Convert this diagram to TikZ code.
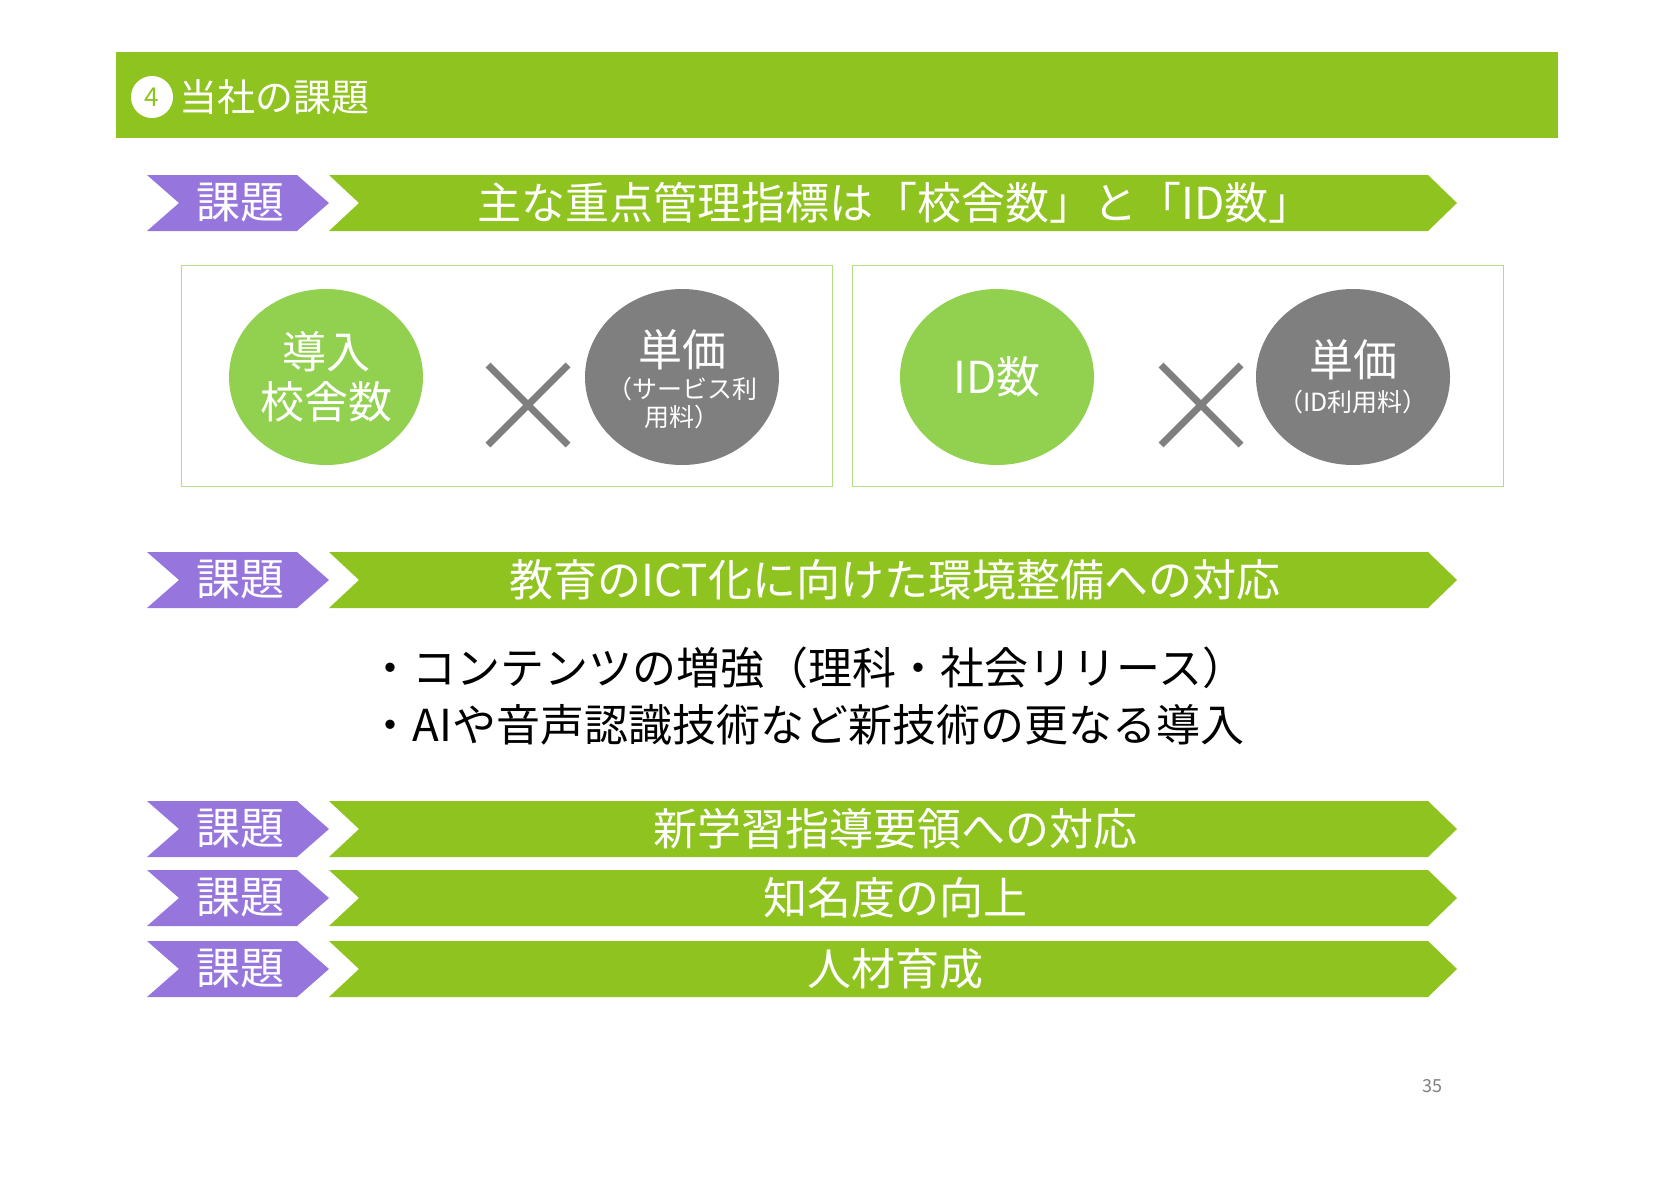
\documentclass[tikz,border=0pt]{standalone}
\usepackage{fontspec}
\setmainfont{Noto Sans CJK JP}
\usetikzlibrary{shapes.geometric}
\definecolor{gr}{HTML}{8FC31F}
\definecolor{pu}{HTML}{9676DC}
\definecolor{lg}{HTML}{92D050}
\definecolor{gy}{HTML}{7F7F7F}
\tikzset{
 ttl/.style={text=white,font=\fontsize{44}{48}\selectfont},
 bx/.style={draw=lg!70,line width=1pt},
 cir/.style={ellipse,minimum width=194pt,minimum height=176pt,fill=#1,inner sep=0pt},
 ctx/.style={text=white,align=center,inner sep=0pt},
 cross/.style={draw=gy,line width=7pt}
}
\newcommand{\kadai}[3]{%
 \fill[pu] (147,#1) -- (297,#1) -- (329,#1+28) -- (297,#1+56) -- (147,#1+56) -- (179,#1+28) -- cycle;
 \node[ttl] (k#3) at (240,#1+28) {課題};
 \fill[gr] (329,#1) -- (1428,#1) -- (1457,#1+28) -- (1428,#1+56) -- (329,#1+56) -- (359,#1+28) -- cycle;
 \node[ttl] (t#3) at (895,#1+28) {#2};
}
\begin{document}
\begin{tikzpicture}[x=1pt,y=-1pt]
\useasboundingbox (0,0) rectangle (1672,1184);
\fill[gr] (116,52) rectangle (1558,138);
\node[circle,fill=white,minimum size=42pt,inner sep=0pt,text=gr,font=\fontsize{26}{28}\selectfont] (num) at (152,97) {4};
\node[anchor=west,text=white,font=\fontsize{38}{40}\selectfont] (head) at (176,97) {当社の課題};
\kadai{175}{主な重点管理指標は「校舎数」と「ID数」}{1}
\kadai{552}{教育のICT化に向けた環境整備への対応}{2}
\kadai{801}{新学習指導要領への対応}{3}
\kadai{870}{知名度の向上}{4}
\kadai{941}{人材育成}{5}
\draw[bx] (181,265) rectangle (832,486);
\draw[bx] (852,265) rectangle (1503,486);
\node[cir=lg] (c1) at (326,377) {};
\node[ctx,font=\fontsize{44}{50}\selectfont] (c1t) at (c1) {導入\\校舎数};
\node[cir=gy] (c2) at (682,377) {};
\node[ctx,font=\fontsize{44}{48}\selectfont] (c2a) at (682,350) {単価};
\node[ctx,font=\fontsize{25}{28}\selectfont] (c2b) at (682,403) {（サービス利\\用料）};
\node[cir=lg] (c3) at (997,377) {};
\node[ctx,font=\fontsize{44}{48}\selectfont] (c3t) at (c3) {ID数};
\node[cir=gy] (c4) at (1353,377) {};
\node[ctx,font=\fontsize{44}{48}\selectfont] (c4a) at (1353,360) {単価};
\node[ctx,font=\fontsize{25}{28}\selectfont] (c4b) at (1353,402) {（ID利用料）};
\draw[cross] (488,365) -- (568,445) (488,445) -- (568,365);
\draw[cross] (1161,365) -- (1241,445) (1161,445) -- (1241,365);
\node[anchor=west,font=\fontsize{44}{48}\selectfont] (b1) at (365,668) {・コンテンツの増強（理科・社会リリース）};
\node[anchor=west,font=\fontsize{44}{48}\selectfont] (b2) at (365,725) {・AIや音声認識技術など新技術の更なる導入};
\node[text=gy,font=\fontsize{18}{20}\selectfont] (pg) at (1432,1086) {35};
\end{tikzpicture}
\end{document}
